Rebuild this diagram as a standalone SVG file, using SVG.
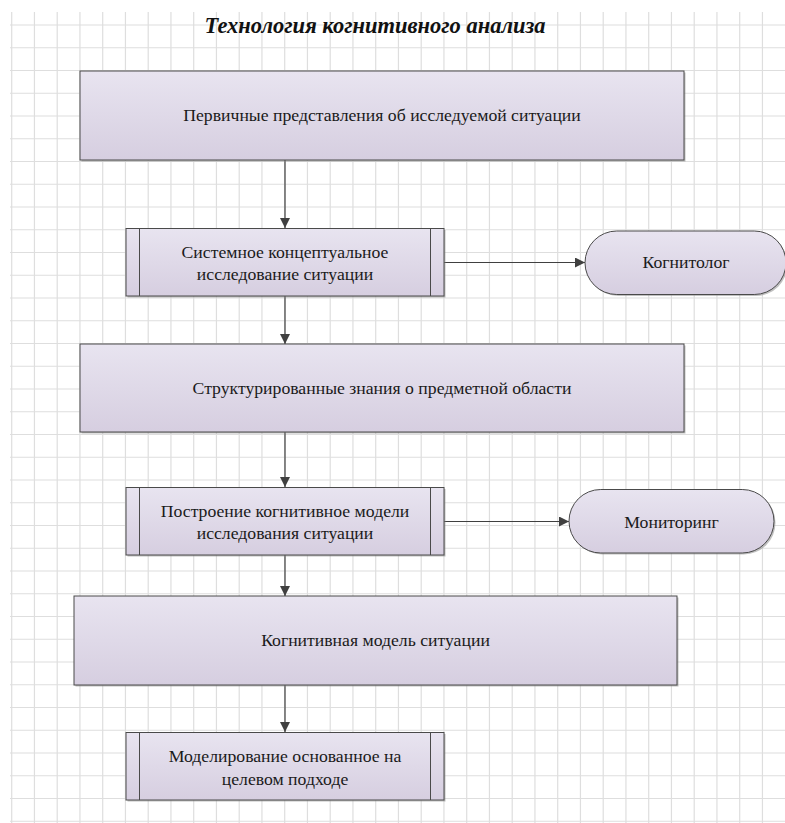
<svg xmlns="http://www.w3.org/2000/svg" width="785" height="823" viewBox="0 0 785 823">
<defs>
<linearGradient id="fill" x1="0" y1="0" x2="0" y2="1">
<stop offset="0" stop-color="#e8e4f0"/>
<stop offset="1" stop-color="#d6cee0"/>
</linearGradient>
<marker id="arr" viewBox="0 0 10 10" refX="10" refY="5" markerWidth="10" markerHeight="10" markerUnits="userSpaceOnUse" orient="auto">
<path d="M0,0 L10,5 L0,10 Z" fill="#404040"/>
</marker>
<style>
.grid{stroke:#dedede;stroke-width:1.2;fill:none}
.box{fill:url(#fill);stroke:#4a4a4a;stroke-width:1}
.shadow{fill:#8c8c8c;opacity:0.55}
.inner{stroke:#4a4a4a;stroke-width:1;fill:none}
.conn{stroke:#404040;stroke-width:1.2;fill:none;marker-end:url(#arr)}
.t{font-family:"Liberation Serif","Times New Roman",serif;font-size:17.7px;fill:#1a1a1a;text-anchor:middle}
.title{font-family:"Liberation Serif","Times New Roman",serif;font-size:22.5px;font-weight:bold;font-style:italic;fill:#111;text-anchor:middle}
</style>
</defs>
<rect width="785" height="823" fill="#ffffff"/>
<g id="grid">
<path class="grid" d="M11.7 12V823M34.45 12V823M57.2 12V823M79.95 12V823M102.7 12V823M125.45 12V823M148.2 12V823M170.95 12V823M193.7 12V823M216.45 12V823M239.2 12V823M261.95 12V823M284.7 12V823M307.45 12V823M330.2 12V823M352.95 12V823M375.7 12V823M398.45 12V823M421.2 12V823M443.95 12V823M466.7 12V823M489.45 12V823M512.2 12V823M534.95 12V823M557.7 12V823M580.45 12V823M603.2 12V823M625.95 12V823M648.7 12V823M671.45 12V823M694.2 12V823M716.95 12V823M739.7 12V823M762.45 12V823"/>
<path class="grid" d="M10 25H785M10 47.75H785M10 70.5H785M10 93.25H785M10 116H785M10 138.75H785M10 161.5H785M10 184.25H785M10 207H785M10 229.75H785M10 252.5H785M10 275.25H785M10 298H785M10 320.75H785M10 343.5H785M10 366.25H785M10 389H785M10 411.75H785M10 434.5H785M10 457.25H785M10 480H785M10 502.75H785M10 525.5H785M10 548.25H785M10 571H785M10 593.75H785M10 616.5H785M10 639.25H785M10 662H785M10 684.75H785M10 707.5H785M10 730.25H785M10 753H785M10 775.75H785M10 798.5H785M10 821.25H785"/>
</g>
<text id="title" class="title" x="375" y="33">Технология когнитивного анализа</text>
<g id="connectors">
<line class="conn" x1="285" y1="160" x2="285" y2="228"/>
<line class="conn" x1="444" y1="262.5" x2="585" y2="262.5"/>
<line class="conn" x1="285" y1="296" x2="285" y2="344"/>
<line class="conn" x1="285" y1="432" x2="285" y2="487"/>
<line class="conn" x1="444" y1="521.5" x2="569" y2="521.5"/>
<line class="conn" x1="285" y1="555" x2="285" y2="596"/>
<line class="conn" x1="285" y1="685" x2="285" y2="732"/>
</g>
<g id="n1">
<rect class="shadow" x="81.5" y="72.5" width="604" height="89"/>
<rect class="box" x="80" y="71" width="604" height="89"/>
<text class="t" x="382" y="121">Первичные представления об исследуемой ситуации</text>
</g>
<g id="n2">
<rect class="shadow" x="127.5" y="230" width="318" height="67.5"/>
<rect class="box" x="126" y="228.5" width="318" height="67.5"/>
<line class="inner" x1="139.5" y1="228.5" x2="139.5" y2="296"/>
<line class="inner" x1="430.5" y1="228.5" x2="430.5" y2="296"/>
<text class="t" x="285" y="257.5">Системное концептуальное</text>
<text class="t" x="285" y="280">исследование ситуации</text>
</g>
<g id="n_kognitolog">
<rect class="shadow" x="586.5" y="232.5" width="201" height="63.5" rx="31.75"/>
<rect class="box" x="585" y="231" width="201" height="63.5" rx="31.75"/>
<text class="t" x="686" y="267.5">Когнитолог</text>
</g>
<g id="n3">
<rect class="shadow" x="81.5" y="345.5" width="604" height="88"/>
<rect class="box" x="80" y="344" width="604" height="88"/>
<text class="t" x="382" y="393.5">Структурированные знания о предметной области</text>
</g>
<g id="n4">
<rect class="shadow" x="127.5" y="489" width="318" height="67.5"/>
<rect class="box" x="126" y="487.5" width="318" height="67.5"/>
<line class="inner" x1="139.5" y1="487.5" x2="139.5" y2="555"/>
<line class="inner" x1="430.5" y1="487.5" x2="430.5" y2="555"/>
<text class="t" x="285" y="516.5">Построение когнитивное модели</text>
<text class="t" x="285" y="539">исследования ситуации</text>
</g>
<g id="n_monitoring">
<rect class="shadow" x="570.5" y="491" width="205" height="63.5" rx="31.75"/>
<rect class="box" x="569" y="489.5" width="205" height="63.5" rx="31.75"/>
<text class="t" x="671.5" y="527.5">Мониторинг</text>
</g>
<g id="n5">
<rect class="shadow" x="75.5" y="597.5" width="603" height="89"/>
<rect class="box" x="74" y="596" width="603" height="89"/>
<text class="t" x="375.5" y="645.5">Когнитивная модель ситуации</text>
</g>
<g id="n6">
<rect class="shadow" x="127.5" y="734" width="318" height="67.5"/>
<rect class="box" x="126" y="732.5" width="318" height="67.5"/>
<line class="inner" x1="139.5" y1="732.5" x2="139.5" y2="800"/>
<line class="inner" x1="430.5" y1="732.5" x2="430.5" y2="800"/>
<text class="t" x="285" y="762">Моделирование основанное на</text>
<text class="t" x="285" y="784.5">целевом подходе</text>
</g>
</svg>
